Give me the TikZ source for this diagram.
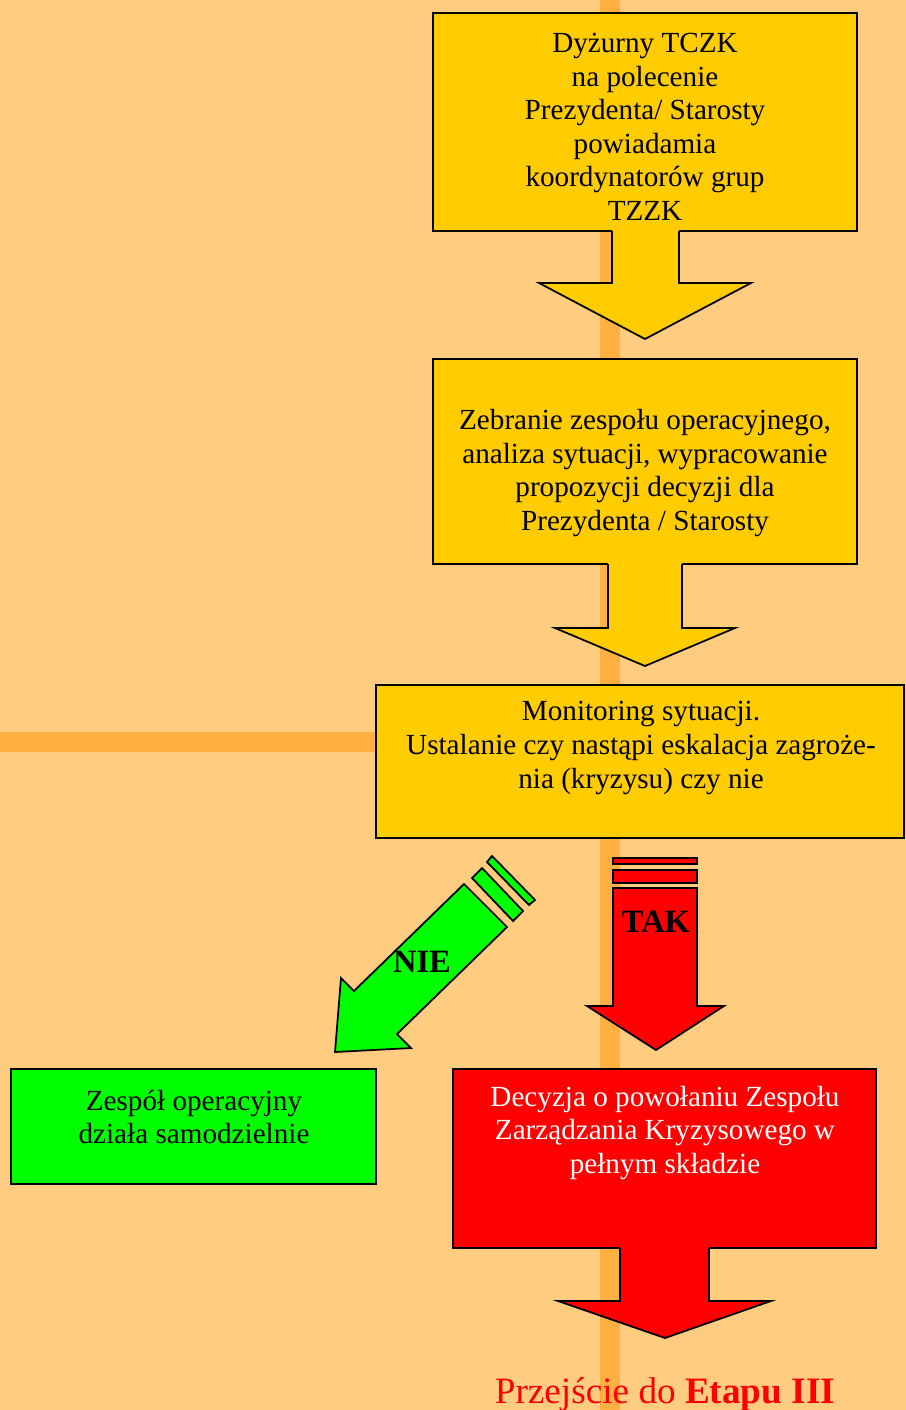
\documentclass[tikz,border=0pt]{standalone}
\usepackage{fontspec}
\setmainfont{Liberation Serif}
\usetikzlibrary{calc}
\definecolor{pagebg}{HTML}{FFCC80}
\definecolor{guide}{HTML}{FFB040}
\definecolor{boxgold}{HTML}{FFCC00}
\definecolor{boxgreen}{HTML}{00FF00}
\definecolor{boxred}{HTML}{FF0000}

\begin{document}
\begin{tikzpicture}[x=0.02cm,y=-0.02cm,
panel/.style = {line width=1pt, draw=black},
outline/.style = {line width=1pt, line join=miter},
boxtext/.style = {align=center, inner sep=0pt,
  font=\fontsize{16.6}{19.1}\selectfont},
answer/.style = {inner sep=0pt, anchor=base,
  font=\fontsize{18.5}{21}\selectfont\bfseries}
]

\useasboundingbox (0,0) rectangle (906,1410);
\fill [pagebg] (0,0) rectangle (906,1410);

% guide lines in the background
\fill [guide] (600,0) rectangle (620,1410);
\fill [guide] (0,732) rectangle (376,752);

% stage boxes
\draw [panel, fill=boxgold] (433,13) rectangle (857,231);
\node [boxtext] (duty) at (645,127)
  {Dyżurny TCZK\\ na polecenie\\ Prezydenta/ Starosty\\ powiadamia\\ koordynatorów grup\\ TZZK};

\fill [boxgold] (612,229) -- (612,283) -- (539,283) -- (645,339) -- (751,283) -- (679,283) -- (679,229) -- cycle;
\draw [outline] (612,231) -- (612,283) -- (539,283) -- (645,339) -- (751,283) -- (679,283) -- (679,231);

\draw [panel, fill=boxgold] (433,359) rectangle (857,564);
\node [boxtext] (team) at (645,473)
  {Zebranie zespołu operacyjnego,\\ analiza sytuacji, wypracowanie\\ propozycji decyzji dla\\ Prezydenta / Starosty};

\fill [boxgold] (608,562) -- (608,628) -- (555,628) -- (645,666) -- (735,628) -- (682,628) -- (682,562) -- cycle;
\draw [outline] (608,564) -- (608,628) -- (555,628) -- (645,666) -- (735,628) -- (682,628) -- (682,564);

\draw [panel, fill=boxgold] (376,685) rectangle (904,838);
\node [boxtext] (watch) at (641,748)
  {Monitoring sytuacji.\\ Ustalanie czy nastąpi eskalacja zagroże-\\ nia (kryzysu) czy nie};

% NIE
\draw [outline, fill=boxgreen] (472,878) -- (482,868) -- (523,911) -- (513,921) -- cycle;
\draw [outline, fill=boxgreen] (487,862) -- (492,856) -- (535,900) -- (529,905) -- cycle;
\draw [outline, fill=boxgreen] (464,884) -- (354,991) -- (341,978) -- (335,1052)
  -- (411,1048) -- (397,1034) -- (507,927) -- cycle;
\node [answer] (no) at (422,972) {NIE};

% TAK
\draw [outline, fill=boxred] (613,858) rectangle (697,864);
\draw [outline, fill=boxred] (613,870) rectangle (697,883);
\draw [outline, fill=boxred] (613,888) -- (613,1006) -- (587,1006) -- (656,1050)
  -- (724,1006) -- (697,1006) -- (697,888) -- cycle;
\node [answer] (yes) at (656,932) {TAK};

\draw [panel, fill=boxgreen] (11,1069) rectangle (376,1184);
\node [boxtext] (alone) at (194,1117)
  {Zespół operacyjny\\ działa samodzielnie};

\draw [panel, fill=boxred] (453,1069) rectangle (876,1248);
\node [boxtext, text=white] (full) at (665,1133)
  {Decyzja o powołaniu Zespołu\\ Zarządzania Kryzysowego w\\ pełnym składzie};

\fill [boxred] (620,1246) -- (620,1301) -- (558,1301) -- (665,1338) -- (771,1301) -- (709,1301) -- (709,1246) -- cycle;
\draw [outline] (620,1248) -- (620,1301) -- (558,1301) -- (665,1338) -- (771,1301) -- (709,1301) -- (709,1248);

\node [anchor=base, inner sep=0pt, text=boxred, font=\fontsize{21.2}{25}\selectfont] (next) at (665,1403)
  {Przejście do \textbf{Etapu III}};

\end{tikzpicture}
\end{document}
